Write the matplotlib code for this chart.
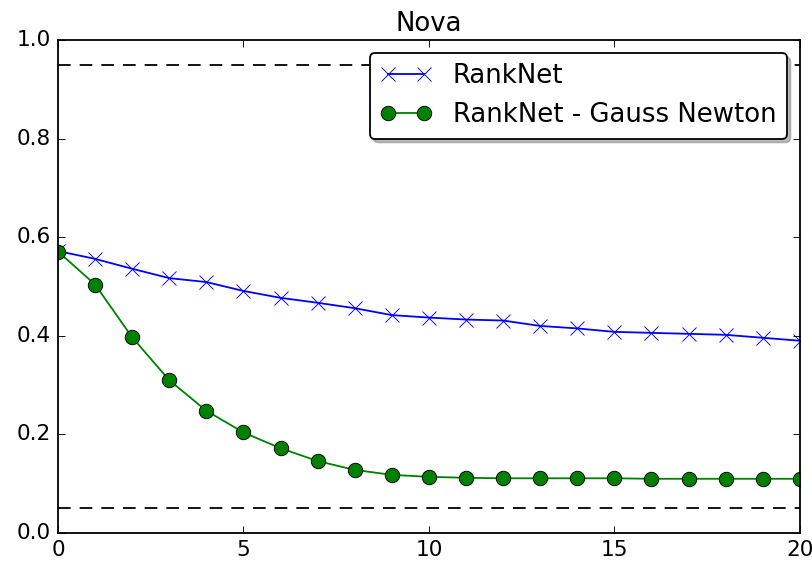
import matplotlib
matplotlib.use('Agg')
import matplotlib.pyplot as plt

plt.style.use('classic')

epochs = list(range(21))
ranknet = [0.572, 0.556, 0.536, 0.517, 0.509, 0.491, 0.477, 0.467, 0.456, 0.442, 0.437,
           0.433, 0.431, 0.420, 0.415, 0.408, 0.406, 0.404, 0.402, 0.396, 0.390]
ranknet_gn = [0.571, 0.504, 0.397, 0.310, 0.248, 0.204, 0.172, 0.146, 0.128, 0.118, 0.114,
              0.112, 0.111, 0.111, 0.111, 0.111, 0.110, 0.110, 0.110, 0.110, 0.110]
upper = 0.95
lower = 0.05

# scaled-up rendering, like the original notebook output
fig = plt.figure(figsize=(812 / 130, 565 / 130), dpi=130)
fig.patch.set_facecolor('white')
ax = fig.add_axes([0.0714, 0.0566, 0.9136, 0.8726])

ax.plot(epochs, ranknet, 'bx-', markersize=8, label='RankNet')
ax.plot(epochs, ranknet_gn, 'go-', markersize=8, label='RankNet - Gauss Newton')
ax.axhline(upper, color='k', linestyle='--', dashes=(7, 5))
ax.axhline(lower, color='k', linestyle='--', dashes=(7, 5))

ax.set_xlim(0, 20)
ax.set_ylim(0, 1)
ax.set_title('Nova')
ax.legend(loc='upper right', shadow={'alpha': 0.35}, fancybox=True, numpoints=2,
          handlelength=2.0)

fig.savefig('out.png', dpi=130, facecolor='white')
